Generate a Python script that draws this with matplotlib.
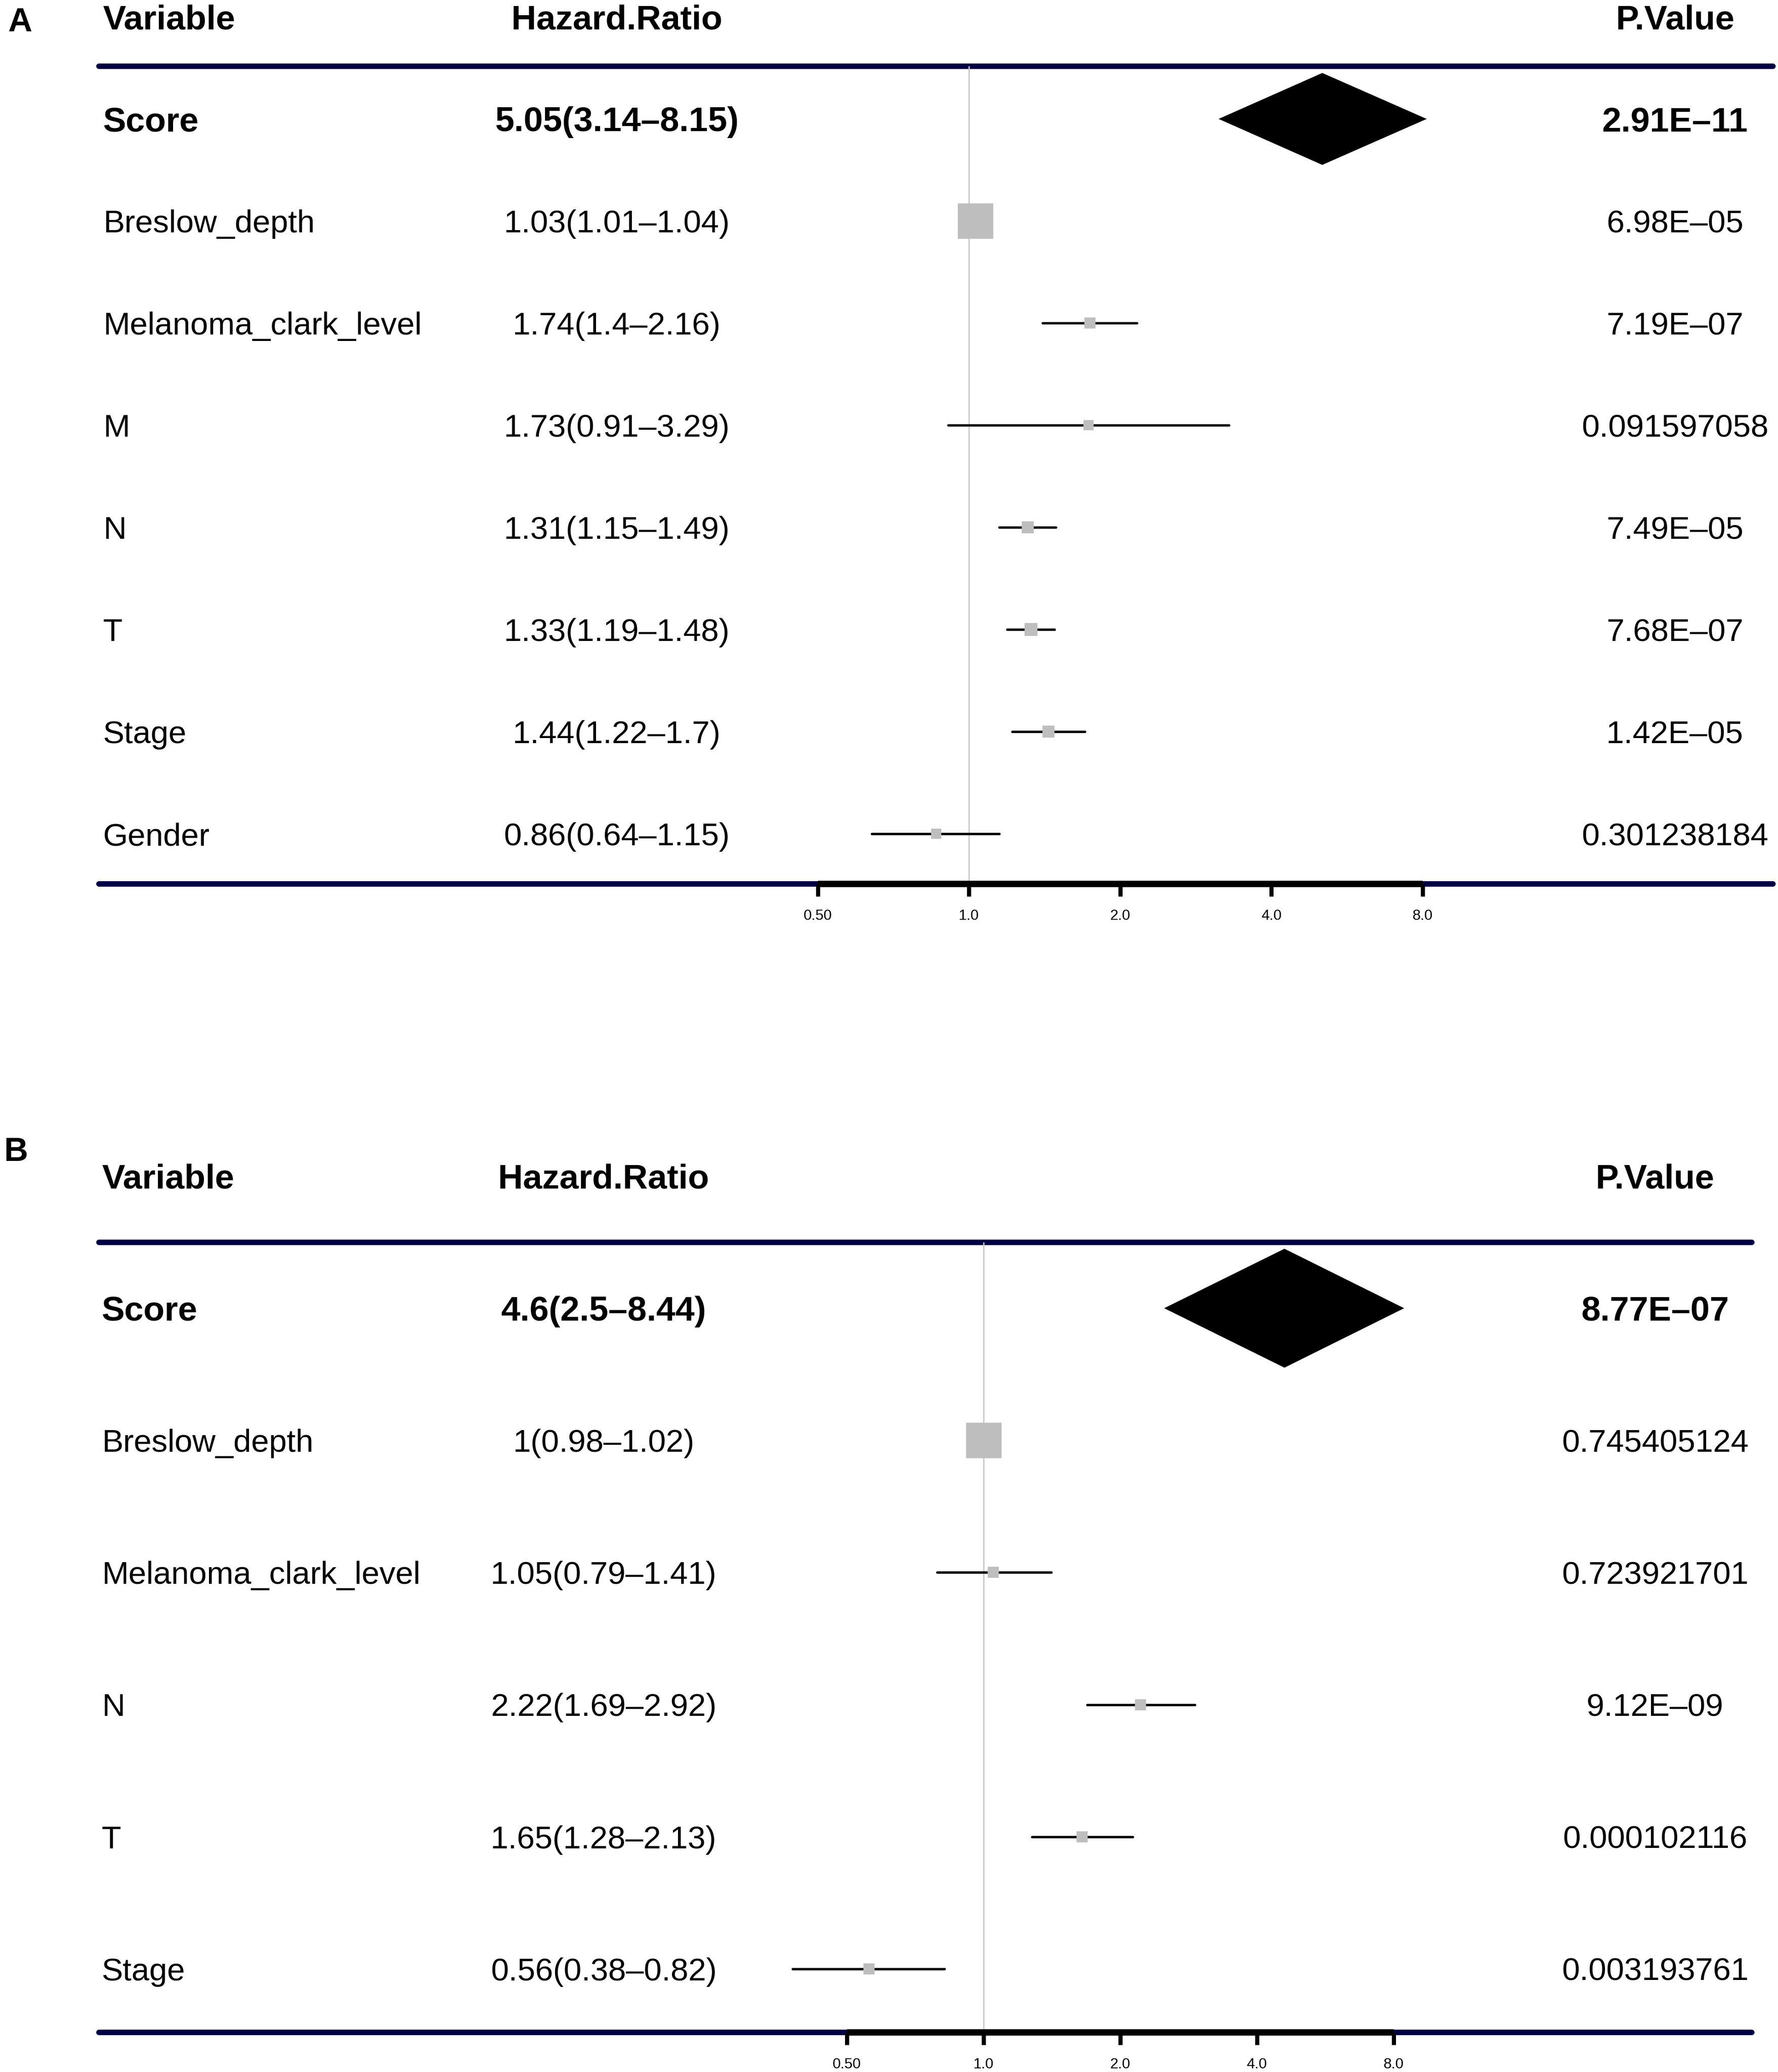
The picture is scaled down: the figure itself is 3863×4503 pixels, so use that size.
import numpy as np
import matplotlib
matplotlib.use("Agg")
import matplotlib.pyplot as plt
from matplotlib.ticker import NullLocator
from matplotlib import transforms

plt.rcParams['font.family'] = ['Liberation Sans', 'DejaVu Sans']

# ---------------- data ----------------
a_vars = ["Score", "Breslow_depth", "Melanoma_clark_level", "M", "N", "T", "Stage", "Gender"]
a_hr = [5.05, 1.03, 1.74, 1.73, 1.31, 1.33, 1.44, 0.86]
a_lo = [3.14, 1.01, 1.4, 0.91, 1.15, 1.19, 1.22, 0.64]
a_hi = [8.15, 1.04, 2.16, 3.29, 1.49, 1.48, 1.7, 1.15]
a_p = ["2.91E–11", "6.98E–05", "7.19E–07", "0.091597058", "7.49E–05",
       "7.68E–07", "1.42E–05", "0.301238184"]

b_vars = ["Score", "Breslow_depth", "Melanoma_clark_level", "N", "T", "Stage"]
b_hr = [4.6, 1, 1.05, 2.22, 1.65, 0.56]
b_lo = [2.5, 0.98, 0.79, 1.69, 1.28, 0.38]
b_hi = [8.44, 1.02, 1.41, 2.92, 2.13, 0.82]
b_p = ["8.77E–07", "0.745405124", "0.723921701", "9.12E–09", "0.000102116", "0.003193761"]

headers = ["Variable", "Hazard.Ratio", "P.Value"]
tick_vals = [0.5, 1, 2, 4, 8]
tick_labels = ["0.50", "1.0", "2.0", "4.0", "8.0"]

# ---------------- style ----------------
NAVY = "#000044"
BOX = "#BEBEBE"
REF = "#C8C8C8"
FS = 50
FS_B = 54
W, H = 3863, 4503
DW, DH = 1346, 1568  # reference preview coordinates

fig = plt.figure(figsize=(W / 100, H / 100), dpi=100)


def axes_from_preview(x0, x1, ytop, ybot):
    return fig.add_axes([x0 / DW, 1 - ybot / DH, (x1 - x0) / DW, (ybot - ytop) / DH])


def draw_panel(ax, vars_, hr, lo, hi, pv, xlog_left, xlog_right, ylim, col_x):
    n = len(vars_)
    rows = np.arange(n)
    ax.set_xscale('log', base=2)
    ax.set_xlim(2 ** xlog_left, 2 ** xlog_right)
    ax.set_ylim(*ylim)

    for s in ['left', 'right', 'top']:
        ax.spines[s].set_visible(False)
    sp = ax.spines['bottom']
    sp.set_bounds(tick_vals[0], tick_vals[-1])
    sp.set_linewidth(10)
    sp.set_color('black')
    sp.set_capstyle('butt')
    sp.set_zorder(5)

    ax.set_xticks(tick_vals)
    ax.set_xticklabels(tick_labels, fontsize=23,
                       fontfamily=['Liberation Sans Narrow', 'Liberation Sans', 'DejaVu Sans'])
    ax.xaxis.set_minor_locator(NullLocator())
    ax.tick_params(axis='x', direction='out', length=19.5, width=6.5, pad=20,
                   top=False, bottom=True, color='black')
    ax.set_yticks([])

    # horizontal navy rules
    for yy in (0, 1):
        ax.plot([0, 1], [yy, yy], transform=ax.transAxes, color=NAVY, lw=8.6,
                solid_capstyle='round', clip_on=False, zorder=1)
    # reference line at HR = 1
    ax.axvline(1, color=REF, lw=2.0, zorder=1.5)

    # box sizes from CI precision
    width = np.log(np.array(hi)) - np.log(np.array(lo))
    info = 1 / width
    info = info / info[1:].max()

    for i in rows:
        if i == 0:
            ax.fill([lo[i], hr[i], hi[i], hr[i]], [i, i - 0.45, i, i + 0.45],
                    color='black', zorder=4, lw=0)
        else:
            ax.plot([lo[i], hi[i]], [i, i], color='black', lw=3.8,
                    solid_capstyle='round', zorder=3)
            ax.plot([hr[i]], [i], marker='s', ms=13 + 41 * info[i], color=BOX,
                    mec=BOX, mew=1.5, zorder=4, linestyle='none')

    # table text
    vx, hx, px = col_x
    hr_txt = [f"{h:g}({l:g}–{u:g})" for h, l, u in zip(hr, lo, hi)]

    def put(x, y, s, ha, bold):
        fs = FS_B if bold else FS
        tr = transforms.blended_transform_factory(ax.transAxes, ax.transData)
        tr = transforms.offset_copy(tr, fig=fig, y=-0.358 * fs, units='points')
        ax.text(x, y, s, ha=ha, va='baseline', fontsize=fs,
                fontweight='bold' if bold else 'normal', transform=tr, clip_on=False)

    put(vx, -1.0, headers[0], 'left', True)
    put(hx, -1.0, headers[1], 'center', True)
    put(px, -1.0, headers[2], 'center', True)
    for i in rows:
        b = (i == 0)
        put(vx, i, vars_[i], 'left', b)
        put(hx, i, hr_txt[i], 'center', b)
        put(px, i, pv[i], 'center', b)


# Panel A
axA = axes_from_preview(75, 1342, 50, 669)
x1A, stepA = 733.5, 114.5
draw_panel(axA, a_vars, a_hr, a_lo, a_hi, a_p,
           (75 - x1A) / stepA, (1342 - x1A) / stepA,
           ((669 - 90) / 77.29, (50 - 90) / 77.29),
           ((78 - 75) / 1267, (467 - 75) / 1267, (1268 - 75) / 1267))

# Panel B
axB = axes_from_preview(75, 1326, 940, 1538)
x1B, stepB = 744.5, 103.5
draw_panel(axB, b_vars, b_hr, b_lo, b_hi, b_p,
           (75 - x1B) / stepB, (1326 - x1B) / stepB,
           ((1538 - 990) / 100.0, (940 - 990) / 100.0),
           ((77 - 75) / 1251, (457 - 75) / 1251, (1253 - 75) / 1251))

fig.text(15 / DW, 1 - 17 / DH, "A", ha='center', va='center', fontsize=52, fontweight='bold')
fig.text(12 / DW, 1 - 872 / DH, "B", ha='center', va='center', fontsize=52, fontweight='bold')

fig.savefig("out.png", dpi=100, facecolor='white')
